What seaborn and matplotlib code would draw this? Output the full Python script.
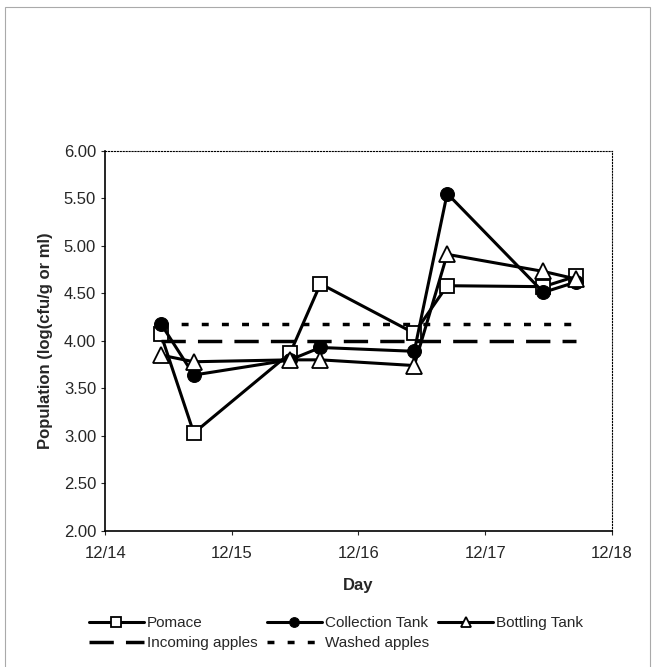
import matplotlib
matplotlib.use('Agg')
import matplotlib.pyplot as plt
import seaborn as sns

# sampling times, in days after 12/14
days = [0.44, 0.70, 1.46, 1.70, 2.44, 2.70, 3.46, 3.72]
pomace = [4.07, 3.03, 3.87, 4.60, 4.08, 4.58, 4.57, 4.68]
collection = [4.18, 3.64, 3.80, 3.93, 3.89, 5.55, 4.51, 4.62]
bottling = [3.85, 3.78, 3.80, 3.80, 3.74, 4.91, 4.73, 4.65]
incoming = [4.00] * len(days)
washed = [4.18] * len(days)

tick_pos = [0, 1, 2, 3, 4]
tick_labels = ['12/14', '12/15', '12/16', '12/17', '12/18']

sns.set_style('white')
plt.rcParams['font.family'] = ['Liberation Sans', 'DejaVu Sans']

fig = plt.figure(figsize=(6.53, 6.67), dpi=100)
ax = fig.add_axes([0.161, 0.204, 0.776, 0.570])

# measured series
sns.lineplot(x=days, y=pomace, ax=ax, color='black', lw=2.2, marker='s',
             markersize=10, markerfacecolor='white', markeredgecolor='black',
             markeredgewidth=1.3, label='Pomace')
sns.lineplot(x=days, y=collection, ax=ax, color='black', lw=2.2, marker='o',
             markersize=10, markerfacecolor='black', markeredgecolor='black',
             label='Collection Tank')
sns.lineplot(x=days, y=bottling, ax=ax, color='black', lw=2.2, marker='^',
             markersize=11, markerfacecolor='white', markeredgecolor='black',
             markeredgewidth=1.3, label='Bottling Tank')
# reference levels
sns.lineplot(x=days, y=incoming, ax=ax, color='black', lw=2.5, label='Incoming apples')
sns.lineplot(x=days, y=washed, ax=ax, color='black', lw=2.5, label='Washed apples')
ax.lines[-1].set_linestyle((0, (2, 3.8)))
ax.lines[-2].set_linestyle((0, (7, 3.5)))

ax.set_xlim(0, 4)
ax.set_ylim(2, 6)
ax.set_xticks(tick_pos)
ax.set_xticklabels(tick_labels)
ax.set_yticks([2, 2.5, 3, 3.5, 4, 4.5, 5, 5.5, 6])
ax.set_yticklabels([f'{v:.2f}' for v in ax.get_yticks()])
ax.tick_params(labelsize=12, length=3, direction='out', left=True, bottom=True)
ax.tick_params(axis='x', pad=8)
ax.set_xlabel('Day', fontsize=12, fontweight='bold', labelpad=12)
ax.set_ylabel('Population (log(cfu/g or ml)', fontsize=12, fontweight='bold', labelpad=8)

for side in ['left', 'bottom']:
    ax.spines[side].set_color('black')
    ax.spines[side].set_linewidth(1.2)
for side in ['top', 'right']:
    ax.spines[side].set_color('black')
    ax.spines[side].set_linewidth(0.8)
    ax.spines[side].set_linestyle(':')

handles, labels = ax.get_legend_handles_labels()
ax.get_legend().remove()
order = [0, 3, 1, 4, 2]
fig.legend([handles[i] for i in order], [labels[i] for i in order],
           ncol=3, frameon=False, loc='upper left',
           bbox_to_anchor=(89 / 653, 1 - 616 / 667), borderpad=0, borderaxespad=0,
           fontsize=11, handlelength=3.6, handletextpad=0.2, columnspacing=0.6,
           labelspacing=0.4, markerscale=0.7)

# thin frame around the whole figure
fig.patches.append(plt.Rectangle((5 / 653, -0.01), 645 / 653, 1 - 7 / 667 + 0.01,
                                 transform=fig.transFigure, fill=False,
                                 edgecolor='#aaaaaa', lw=0.8))

fig.savefig('out.png', dpi=100)
